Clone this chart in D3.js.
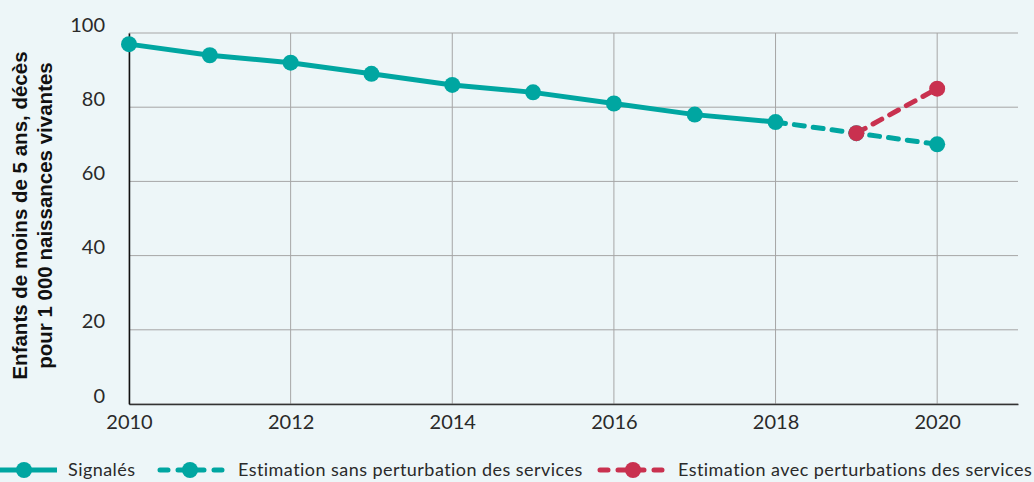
<!DOCTYPE html>
<html>
<head>
<meta charset="utf-8">
<script src="https://cdn.jsdelivr.net/npm/d3@7"></script>
<style>
  html, body { margin: 0; padding: 0; background: #edf6f8; }
  svg { display: block; }
  .tick text { font-family: Lato, "Open Sans", sans-serif; font-size: 20px; fill: #2a2a2a; }
  .legend text { font-family: Lato, "Open Sans", sans-serif; font-size: 18px; fill: #2a2a2a; letter-spacing: 0.45px; }
</style>
</head>
<body>
<svg width="1034" height="482"></svg>
<script>
// Data
const years = [2010, 2011, 2012, 2013, 2014, 2015, 2016, 2017, 2018];
const reported = [97, 94, 92, 89, 86, 84, 81, 78, 76];
const noDisruptYears = [2018, 2019, 2020];
const noDisrupt = [76, 73, 70];
const disruptYears = [2019, 2020];
const disrupt = [73, 85];
const xTicks = [2010, 2012, 2014, 2016, 2018, 2020];
const yTicks = [0, 20, 40, 60, 80, 100];

const teal = "#00a6a1";
const red = "#c9314f";

const svg = d3.select("svg");
const margin = { left: 129, right: 16, top: 33, bottom: 78 };
const width = +svg.attr("width");
const height = +svg.attr("height");

const x = d3.scaleLinear().domain([2010, 2021]).range([margin.left, width - margin.right]);
const y = d3.scaleLinear().domain([0, 100]).range([height - margin.bottom, margin.top]);

// Grid lines
svg.append("g")
    .selectAll("line")
    .data(yTicks)
    .join("line")
    .attr("x1", x(2010)).attr("x2", x(2021))
    .attr("y1", d => y(d)).attr("y2", d => y(d))
    .attr("stroke", "#a6a6a6").attr("stroke-width", 1);

svg.append("g")
    .selectAll("line")
    .data(xTicks)
    .join("line")
    .attr("x1", d => x(d)).attr("x2", d => x(d))
    .attr("y1", y(0)).attr("y2", y(100))
    .attr("stroke", "#a6a6a6").attr("stroke-width", 1);

// Axes
const xAxis = svg.append("g")
    .attr("transform", `translate(0,${y(0)})`)
    .call(d3.axisBottom(x).tickValues(xTicks).tickFormat(d3.format("d")).tickSize(0).tickPadding(11));
xAxis.select(".domain").attr("stroke", "#333").attr("stroke-width", 1.5);

const yAxis = svg.append("g")
    .attr("transform", `translate(${x(2010)},0)`)
    .call(d3.axisLeft(y).tickValues(yTicks).tickSize(0).tickPadding(24));
yAxis.select(".domain").attr("stroke", "#111").attr("stroke-width", 1.5);
yAxis.selectAll(".tick text").attr("dy", "-0.1em");

// Axis title
const title = svg.append("text")
    .attr("transform", `translate(28,${(y(0) + y(100)) / 2 - 3}) rotate(-90)`)
    .attr("text-anchor", "middle")
    .style("font-family", "'Liberation Sans', Arial, sans-serif")
    .style("font-weight", "bold")
    .style("font-size", "20.5px")
    .attr("fill", "#111");
title.append("tspan").attr("x", 0).attr("dy", "-0.05em").text("Enfants de moins de 5 ans, décès");
title.append("tspan").attr("x", 0).attr("dy", "1.2em").text("pour 1 000 naissances vivantes");

const line = d3.line().x(d => x(d[0])).y(d => y(d[1]));

function series(xs, ys, color, dashed) {
    const pts = xs.map((d, i) => [d, ys[i]]);
    svg.append("path")
        .datum(pts)
        .attr("d", line)
        .attr("fill", "none")
        .attr("stroke", color)
        .attr("stroke-width", 5)
        .attr("stroke-dasharray", dashed ? "10,9" : null)
        .attr("stroke-linecap", dashed ? "round" : "butt");
    return pts;
}

const p1 = series(years, reported, teal, false);
const p2 = series(noDisruptYears, noDisrupt, teal, true);
const p3 = series(disruptYears, disrupt, red, true);

svg.append("g").selectAll("circle")
    .data(p1.concat(p2.slice(1)))
    .join("circle")
    .attr("cx", d => x(d[0])).attr("cy", d => y(d[1]))
    .attr("r", 8).attr("fill", teal);

svg.append("g").selectAll("circle")
    .data(p3)
    .join("circle")
    .attr("cx", d => x(d[0])).attr("cy", d => y(d[1]))
    .attr("r", 8).attr("fill", red);

// Legend
const legendItems = [
    { label: "Signalés", color: teal, dashed: false, x0: 0, x1: 57, cx: 24, tx: 68 },
    { label: "Estimation sans perturbation des services", color: teal, dashed: true, x0: 160, x1: 224, cx: 190, tx: 238 },
    { label: "Estimation avec perturbations des services", color: red, dashed: true, x0: 600, x1: 663, cx: 633, tx: 678 }
];
const ly = 470;
const lg = svg.append("g").attr("class", "legend");
legendItems.forEach(it => {
    lg.append("line")
        .attr("x1", it.x0).attr("x2", it.x1).attr("y1", ly).attr("y2", ly)
        .attr("stroke", it.color).attr("stroke-width", 5)
        .attr("stroke-linecap", it.dashed ? "round" : "butt")
        .attr("stroke-dasharray", it.dashed ? "8,10" : null);
    lg.append("circle").attr("cx", it.cx).attr("cy", ly).attr("r", 8).attr("fill", it.color);
    lg.append("text").attr("x", it.tx).attr("y", ly).attr("dy", "0.35em").text(it.label);
});
</script>
</body>
</html>
